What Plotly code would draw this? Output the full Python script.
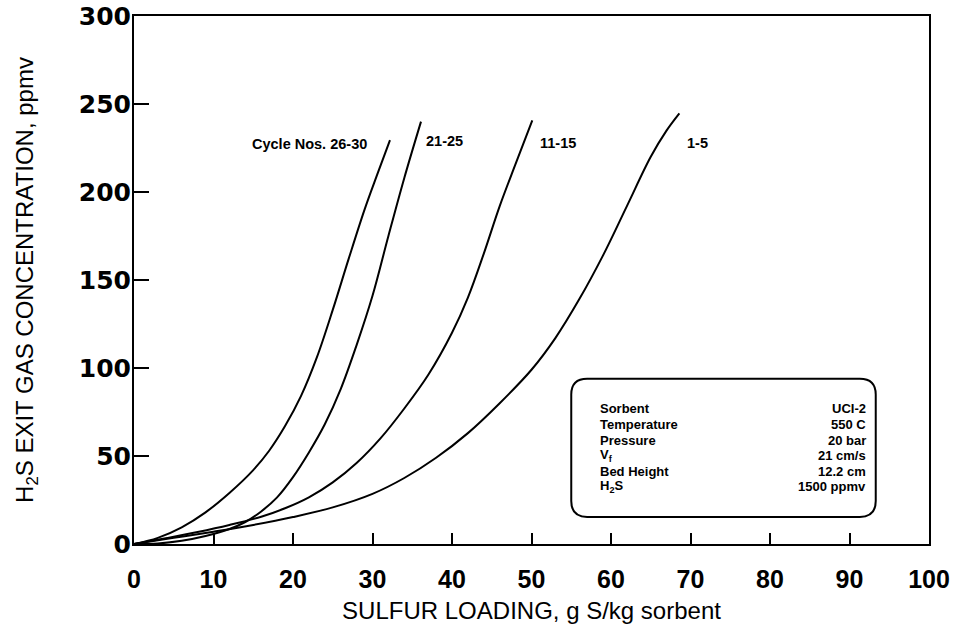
import plotly.graph_objects as go

# Breakthrough curves: H2S exit concentration vs sulfur loading, grouped by cycle number
c26_30_x = [0, 3, 6, 9, 12, 15, 17, 19, 21, 23, 25, 27, 29, 30.6, 32.2]
c26_30_y = [0, 3.5, 9.5, 18, 29, 42, 53, 67, 84, 106, 133, 162, 190, 210, 229.5]

c21_25_x = [0, 3, 6, 9, 12, 14, 16, 18, 20, 22, 24, 26, 28, 30, 32, 34, 36.1]
c21_25_y = [0, 0.3, 1.8, 4.5, 8.5, 12.5, 18.5, 26.5, 38, 52, 68, 88, 113, 141, 175, 208, 240]

c11_15_x = [0, 4, 8, 12, 16, 19, 22, 25, 28, 31, 34, 37, 40, 42, 44, 46, 48, 50.1]
c11_15_y = [0, 3.3, 6.8, 10.8, 15.5, 20.3, 26.5, 35, 46, 60, 77, 96, 120, 140, 165, 192, 216, 240.7]

c1_5_x = [0, 5, 10, 15, 20, 25, 30, 34, 38, 42, 46, 50, 53, 56, 59, 62, 65, 67, 68.6]
c1_5_y = [0, 3.5, 7, 10.8, 15.3, 20.8, 28.5, 37.5, 49, 63, 80, 99, 117, 139, 164, 192, 220, 235, 244.7]

series = [
    ("Cycle Nos. 26-30", c26_30_x, c26_30_y),
    ("21-25", c21_25_x, c21_25_y),
    ("11-15", c11_15_x, c11_15_y),
    ("1-5", c1_5_x, c1_5_y),
]

# Curve label positions (data coordinates) and anchoring
label_pos = {
    "Cycle Nos. 26-30": (29.5, 227, "right"),
    "21-25": (36.5, 229, "left"),
    "11-15": (50.8, 228, "left"),
    "1-5": (69.3, 228, "left"),
}

# Test-condition box contents
cond_names = ["Sorbent", "Temperature", "Pressure", "V<sub>f</sub>", "Bed Height", "H<sub>2</sub>S"]
cond_values = ["UCI-2", "550 C", "20 bar", "21 cm/s", "12.2 cm", "1500 ppmv"]

x_ticks = [0, 10, 20, 30, 40, 50, 60, 70, 80, 90, 100]
y_ticks = [0, 50, 100, 150, 200, 250, 300]

BOLD = "Liberation Sans, Arial"

fig = go.Figure()
for name, xs, ys in series:
    fig.add_trace(go.Scatter(
        x=xs, y=ys, mode="lines", name=name,
        line=dict(color="black", width=2, shape="spline", smoothing=1.0),
        showlegend=False, hoverinfo="skip",
    ))

annotations = []
for name, (ax, ay, anchor) in label_pos.items():
    annotations.append(dict(
        x=ax, y=ay, xref="x", yref="y", text=name, showarrow=False,
        xanchor=anchor, yanchor="middle",
        font=dict(family=BOLD, size=14.5, color="black", weight="bold"),
    ))

# Conditions box (rounded rectangle) in data coordinates
bx0, bx1, by0, by1 = 55.0, 93.3, 15.4, 93.9
rx, ry = 2.0, 9.0
box_path = (
    f"M {bx0 + rx},{by1} L {bx1 - rx},{by1} Q {bx1},{by1} {bx1},{by1 - ry} "
    f"L {bx1},{by0 + ry} Q {bx1},{by0} {bx1 - rx},{by0} "
    f"L {bx0 + rx},{by0} Q {bx0},{by0} {bx0},{by0 + ry} "
    f"L {bx0},{by1 - ry} Q {bx0},{by1} {bx0 + rx},{by1} Z"
)

row_y0 = 76.8
row_dy = 8.88
for i, (nm, val) in enumerate(zip(cond_names, cond_values)):
    yy = row_y0 - i * row_dy
    annotations.append(dict(
        x=58.4, y=yy, xref="x", yref="y", text=nm, showarrow=False,
        xanchor="left", yanchor="middle",
        font=dict(family=BOLD, size=13, color="black", weight="bold"),
    ))
    annotations.append(dict(
        x=92.3, y=yy, xref="x", yref="y", text=val, showarrow=False,
        xanchor="right", yanchor="middle",
        font=dict(family=BOLD, size=13, color="black", weight="bold"),
    ))

fig.update_layout(
    width=959, height=625,
    margin=dict(l=134, r=30, t=16, b=81),
    paper_bgcolor="white", plot_bgcolor="white",
    shapes=[dict(type="path", path=box_path, xref="x", yref="y",
                 line=dict(color="black", width=2), fillcolor="rgba(0,0,0,0)", layer="above")],
    annotations=annotations,
    xaxis=dict(
        range=[0, 100], tickvals=x_ticks, ticktext=[str(v) for v in x_ticks],
        showgrid=False, zeroline=False, showline=True, mirror=True,
        linecolor="black", linewidth=2, automargin=False,
        ticks="inside", ticklen=11, tickwidth=1.5, tickcolor="black",
        ticklabelstandoff=12,
        tickfont=dict(family="Liberation Sans Narrow, Arial Narrow, Liberation Sans", size=25,
                      color="black", weight="bold"),
        title=dict(text="SULFUR LOADING, g S/kg sorbent", standoff=10,
                   font=dict(family="Liberation Sans, Arial", size=24, color="black")),
    ),
    yaxis=dict(
        range=[0, 300], tickvals=y_ticks, ticktext=[str(v) for v in y_ticks],
        showgrid=False, zeroline=False, showline=True, mirror=True,
        linecolor="black", linewidth=2, automargin=False,
        ticks="inside", ticklen=15, tickwidth=1.5, tickcolor="black",
        ticklabelstandoff=-4,
        tickfont=dict(family="DejaVu Sans, Liberation Sans", size=25, color="black", weight="bold"),
        title=dict(text="H<sub>2</sub>S EXIT GAS CONCENTRATION, ppmv", standoff=38,
                   font=dict(family="Liberation Sans, Arial", size=24, color="black")),
    ),
)

fig.write_html("out.html")
